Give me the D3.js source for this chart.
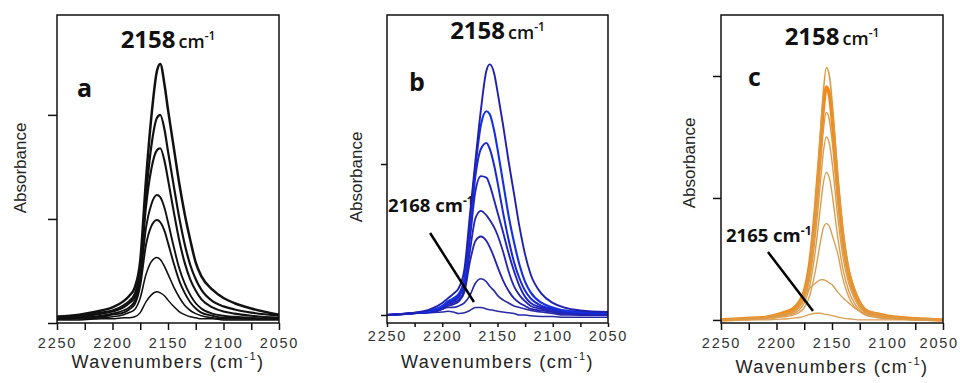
<!DOCTYPE html>
<html><head><meta charset="utf-8">
<script src="https://cdn.jsdelivr.net/npm/d3@7"></script>
<style>body{margin:0;background:#fff}svg{display:block}</style>
</head><body>
<script>
// ---------- data ----------
const xTickValues = [2250, 2225, 2200, 2175, 2150, 2125, 2100, 2075, 2050];
const xTickLabels = [2250, 2200, 2150, 2100, 2050];

const wnA = [2250, 2230, 2210, 2200, 2190, 2185, 2180, 2175, 2170, 2165, 2160, 2157, 2153, 2150, 2145, 2140, 2135, 2130, 2125, 2120, 2110, 2100, 2090, 2075, 2050];
const absA1 = [0.06,0.08,0.12,0.15,0.21,0.26,0.34,0.60,1.35,1.98,2.42,2.49,2.28,2.05,1.70,1.35,1.05,0.80,0.58,0.45,0.32,0.24,0.19,0.14,0.08];
const absA2 = [0.06,0.07,0.10,0.12,0.17,0.21,0.28,0.52,1.20,1.70,1.97,2.00,1.85,1.65,1.33,1.02,0.76,0.56,0.42,0.32,0.21,0.16,0.13,0.10,0.07];
const absA3 = [0.05,0.06,0.09,0.11,0.15,0.19,0.25,0.48,1.10,1.48,1.66,1.68,1.55,1.38,1.08,0.80,0.58,0.42,0.31,0.23,0.15,0.11,0.09,0.07,0.05];
const absA4 = [0.04,0.05,0.07,0.09,0.12,0.15,0.21,0.42,0.90,1.14,1.23,1.21,1.10,0.97,0.74,0.53,0.38,0.27,0.19,0.14,0.09,0.07,0.06,0.05,0.04];
const absA5 = [0.04,0.05,0.06,0.08,0.10,0.13,0.18,0.36,0.74,0.93,0.99,0.97,0.88,0.77,0.58,0.41,0.29,0.20,0.14,0.10,0.07,0.05,0.05,0.04,0.04];
const absA6 = [0.04,0.04,0.05,0.06,0.08,0.10,0.13,0.24,0.46,0.59,0.63,0.61,0.54,0.47,0.35,0.25,0.17,0.12,0.09,0.07,0.05,0.04,0.04,0.04,0.04];
const absA7 = [0.03,0.03,0.04,0.04,0.05,0.05,0.06,0.10,0.20,0.27,0.30,0.29,0.26,0.22,0.16,0.11,0.08,0.06,0.05,0.04,0.04,0.03,0.03,0.03,0.03];

const wnB = [2250, 2230, 2210, 2200, 2195, 2190, 2185, 2180, 2175, 2170, 2165, 2160, 2157, 2153, 2150, 2145, 2140, 2135, 2130, 2125, 2120, 2110, 2100, 2090, 2075, 2050];
const absB1 = [0.00,0.01,0.04,0.08,0.11,0.14,0.18,0.30,0.66,1.02,1.36,1.62,1.66,1.60,1.48,1.26,1.02,0.80,0.58,0.40,0.27,0.14,0.08,0.05,0.03,0.02];
const absB2 = [0.00,0.01,0.03,0.06,0.09,0.11,0.14,0.24,0.60,0.98,1.26,1.35,1.33,1.22,1.10,0.88,0.66,0.48,0.33,0.22,0.15,0.08,0.05,0.03,0.02,0.01];
const absB3 = [0.00,0.01,0.03,0.05,0.08,0.10,0.13,0.22,0.56,0.92,1.10,1.14,1.10,0.99,0.88,0.68,0.50,0.35,0.24,0.16,0.11,0.06,0.04,0.03,0.02,0.01];
const absB4 = [0.00,0.01,0.02,0.05,0.08,0.09,0.12,0.20,0.50,0.82,0.92,0.91,0.86,0.76,0.68,0.55,0.41,0.29,0.19,0.12,0.08,0.05,0.03,0.02,0.01,0.01];
const absB5 = [0.00,0.01,0.02,0.04,0.07,0.08,0.10,0.17,0.42,0.64,0.69,0.66,0.63,0.58,0.53,0.42,0.29,0.19,0.13,0.09,0.06,0.04,0.02,0.01,0.01,0.00];
const absB6 = [0.00,0.01,0.02,0.04,0.06,0.07,0.09,0.15,0.35,0.49,0.52,0.49,0.45,0.38,0.32,0.23,0.16,0.11,0.08,0.06,0.04,0.03,0.02,0.01,0.00,0.00];
const absB7 = [0.00,0.01,0.02,0.04,0.05,0.05,0.06,0.08,0.13,0.21,0.24,0.22,0.19,0.16,0.13,0.10,0.08,0.06,0.05,0.04,0.03,0.02,0.01,0.00,0.00,0.00];
const absB8 = [0.00,0.01,0.015,0.02,0.025,0.02,0.01,0.015,0.03,0.05,0.05,0.04,0.035,0.03,0.025,0.02,0.015,0.01,0.00,0.00,-0.005,-0.01,-0.01,-0.015,-0.015,-0.015];

const wnC = [2250, 2230, 2210, 2200, 2190, 2185, 2180, 2175, 2170, 2165, 2160, 2158, 2155, 2152, 2150, 2145, 2140, 2135, 2130, 2125, 2120, 2110, 2100, 2090, 2075, 2050];
const absC1 = [0.00,0.01,0.02,0.04,0.06,0.08,0.13,0.22,0.45,0.92,1.58,1.85,2.07,1.98,1.80,1.20,0.72,0.42,0.26,0.15,0.09,0.05,0.03,0.02,0.01,0.00];
const absC2 = [0.00,0.01,0.02,0.04,0.07,0.09,0.14,0.23,0.46,0.90,1.48,1.72,1.91,1.83,1.67,1.12,0.67,0.39,0.24,0.14,0.08,0.05,0.03,0.02,0.01,0.00];
const absC3 = [0.00,0.01,0.02,0.03,0.05,0.07,0.11,0.19,0.38,0.78,1.32,1.54,1.70,1.62,1.48,0.98,0.58,0.34,0.20,0.12,0.07,0.04,0.02,0.01,0.01,0.00];
const absC4 = [0.00,0.01,0.02,0.03,0.05,0.06,0.10,0.17,0.34,0.69,1.17,1.36,1.50,1.43,1.30,0.86,0.51,0.30,0.18,0.10,0.06,0.03,0.02,0.01,0.01,0.00];
const absC5 = [0.00,0.01,0.02,0.03,0.04,0.05,0.08,0.14,0.28,0.57,0.96,1.11,1.21,1.15,1.04,0.69,0.41,0.24,0.14,0.08,0.05,0.03,0.02,0.01,0.00,0.00];
const absC6 = [0.00,0.01,0.01,0.02,0.03,0.04,0.06,0.10,0.20,0.40,0.66,0.75,0.79,0.76,0.70,0.55,0.33,0.19,0.11,0.07,0.04,0.02,0.01,0.01,0.00,0.00];
const absC7 = [0.00,0.00,0.01,0.02,0.05,0.07,0.12,0.19,0.26,0.30,0.33,0.33,0.32,0.30,0.29,0.23,0.18,0.14,0.10,0.07,0.05,0.03,0.02,0.01,0.01,0.00];
const absC8 = [0.00,0.00,0.00,0.005,0.01,0.015,0.02,0.03,0.045,0.055,0.055,0.05,0.045,0.04,0.035,0.025,0.015,0.01,0.005,0.00,0.00,0.00,0.00,0.00,0.00,0.00];

const panelLetters = ["a", "b", "c"];
const peakLabel = "2158";
const annotB = "2168";
const annotC = "2165";

// ---------- drawing ----------
const svg = d3.select("body").append("svg").attr("width", 960).attr("height", 383);
svg.append("rect").attr("width", 960).attr("height", 383).attr("fill", "#fff");

const TOP = 15, BOTTOM = 323;
const axisFont = "'Liberation Sans', Arial, sans-serif";
const boldFont = "'Open Sans', 'Noto Sans', sans-serif";

const panels = [
  { id: "a", left: 57, right: 279, yDomain: [0, 2.96], yTicks: [0, 1, 2], yTickLen: 9,
    xTickLen: 7, xPad: 8, titleY: 48, letterX: 77, letterY: 97, absX: 20, absY: 168, wnY: 368,
    wn: wnA,
    series: [
      { v: absA7, c: "#111", w: 1.5 }, { v: absA6, c: "#111", w: 1.6 }, { v: absA5, c: "#111", w: 1.9 },
      { v: absA4, c: "#111", w: 1.9 }, { v: absA3, c: "#111", w: 2.1 }, { v: absA2, c: "#111", w: 2.2 },
      { v: absA1, c: "#111", w: 2.5 } ] },
  { id: "b", left: 387, right: 608, yDomain: [-0.053, 1.987], yTicks: [0, 1], yTickLen: 6,
    xTickLen: 4, xPad: 4, titleY: 39, letterX: 409, letterY: 91, absX: 356, absY: 177, wnY: 368,
    wn: wnB,
    series: [
      { v: absB8, c: "#2a2aa6", w: 1.5 }, { v: absB7, c: "#2a2aa6", w: 1.7 }, { v: absB6, c: "#2323b0", w: 1.8 },
      { v: absB5, c: "#2323b0", w: 1.8 }, { v: absB4, c: "#1f24c0", w: 1.9 }, { v: absB3, c: "#1a28d0", w: 2.0 },
      { v: absB2, c: "#1530e0", w: 2.1 }, { v: absB1, c: "#2020b0", w: 1.9 } ],
    annot: { text: annotB, tx: 2249, ty: 0.68, x1: 2211, y1: 0.543, x2: 2171.3, y2: 0.086 } },
  { id: "c", left: 721, right: 943, yDomain: [-0.025, 2.5], yTicks: [0, 1, 2], yTickLen: 8,
    xTickLen: 7, xPad: 8, titleY: 45, letterX: 748, letterY: 86, absX: 689, absY: 163, wnY: 373,
    wn: wnC,
    series: [
      { v: absC2, c: "#f08a1e", w: 3.6 },
      { v: absC8, c: "#d9a058", w: 1.3 }, { v: absC7, c: "#d9a058", w: 1.4 }, { v: absC6, c: "#d9a058", w: 1.4 },
      { v: absC5, c: "#dc9c4c", w: 1.4 }, { v: absC4, c: "#dc9c4c", w: 1.4 }, { v: absC3, c: "#e0983e", w: 1.5 },
      { v: absC1, c: "#e0983e", w: 1.6 } ],
    annot: { text: annotC, tx: 2245.5, ty: 0.64, x1: 2207.7, y1: 0.557, x2: 2167.1, y2: 0.074 } }
];

panels.forEach((p, i) => {
  const g = svg.append("g");
  const x = d3.scaleLinear().domain([2250, 2050]).range([p.left, p.right]);
  const y = d3.scaleLinear().domain(p.yDomain).range([BOTTOM, TOP]);

  // x axis
  const xa = g.append("g").attr("transform", `translate(0,${BOTTOM})`)
    .call(d3.axisBottom(x).tickValues(xTickValues).tickSize(p.xTickLen).tickPadding(p.xPad)
      .tickFormat(d => xTickLabels.includes(d) ? d : ""));
  xa.select(".domain").remove();
  xa.selectAll("line").attr("stroke", "#111").attr("stroke-width", 1.5);
  xa.selectAll("text").attr("font-family", axisFont).attr("font-size", 14.5)
    .attr("letter-spacing", "1.8px").attr("fill", "#333");
  // keep the right-most label inside the page
  xa.selectAll(".tick").each(function () {
    const t = d3.select(this).select("text");
    const node = t.node();
    if (!node || !node.textContent) return;
    const bb = node.getBBox();
    const tr = this.transform.baseVal.consolidate();
    const tx = tr ? tr.matrix.e : 0;
    const over = tx + bb.x + bb.width - 959;
    if (over > 0) t.attr("x", -over);
  });

  // y axis
  const ya = g.append("g").attr("transform", `translate(${p.left},0)`)
    .call(d3.axisLeft(y).tickValues(p.yTicks).tickSize(p.yTickLen).tickFormat(""));
  ya.select(".domain").remove();
  ya.selectAll("line").attr("stroke", "#111").attr("stroke-width", 1.5);

  const clipId = "clip" + p.id;
  svg.append("clipPath").attr("id", clipId).append("rect")
    .attr("x", p.left).attr("y", TOP).attr("width", p.right - p.left).attr("height", BOTTOM - TOP);

  // annotation text (under curves)
  if (p.annot) {
    const t = g.append("text").attr("x", x(p.annot.tx)).attr("y", y(p.annot.ty))
      .attr("font-family", boldFont).attr("font-weight", 700).attr("font-size", 18.5).attr("fill", "#111");
    t.append("tspan").text(p.annot.text + " cm");
    t.append("tspan").attr("font-size", 12).attr("dy", -7).text("-1");
  }

  // curves
  const line = d3.line().curve(d3.curveMonotoneX)
    .x((d, k) => x(p.wn[k])).y(d => y(d));
  const cg = g.append("g").attr("clip-path", `url(#${clipId})`);
  p.series.forEach(s => {
    cg.append("path").datum(s.v).attr("d", line).attr("fill", "none")
      .attr("stroke", s.c).attr("stroke-width", s.w).attr("stroke-linejoin", "round");
  });

  // annotation arrow (over curves)
  if (p.annot) {
    g.append("line").attr("x1", x(p.annot.x1)).attr("y1", y(p.annot.y1))
      .attr("x2", x(p.annot.x2)).attr("y2", y(p.annot.y2))
      .attr("stroke", "#000").attr("stroke-width", 2.5);
  }

  // frame
  g.append("rect").attr("x", p.left).attr("y", TOP).attr("width", p.right - p.left)
    .attr("height", BOTTOM - TOP).attr("fill", "none").attr("stroke", "#111").attr("stroke-width", 1.5);

  // title
  const cx = (p.left + p.right) / 2;
  const title = g.append("text").attr("x", cx).attr("y", p.titleY).attr("text-anchor", "middle")
    .attr("font-family", boldFont).attr("fill", "#111");
  title.append("tspan").attr("font-weight", 700).attr("font-size", 24).text(peakLabel);
  title.append("tspan").attr("font-weight", 600).attr("font-size", 18).attr("dx", 3).text("cm");
  title.append("tspan").attr("font-weight", 600).attr("font-size", 12).attr("dy", -8).text("-1");

  // panel letter
  g.append("text").attr("x", p.letterX).attr("y", p.letterY)
    .attr("font-family", boldFont).attr("font-weight", 700).attr("font-size", 25)
    .attr("fill", "#111").text(panelLetters[i]);

  // y label
  g.append("text").attr("transform", `translate(${p.absX},${p.absY}) rotate(-90)`)
    .attr("text-anchor", "middle").attr("dy", "0.35em")
    .attr("font-family", axisFont).attr("font-size", 17).attr("fill", "#222").text("Absorbance");

  // x label
  const xl = g.append("text").attr("x", cx).attr("y", p.wnY).attr("text-anchor", "middle")
    .attr("font-family", axisFont).attr("font-size", 18).attr("letter-spacing", "1.5px").attr("fill", "#222");
  xl.append("tspan").text("Wavenumbers (cm");
  xl.append("tspan").attr("font-size", 11).attr("dy", -8).text("-1");
  xl.append("tspan").attr("dy", 8).text(")");
});
</script>
</body></html>
